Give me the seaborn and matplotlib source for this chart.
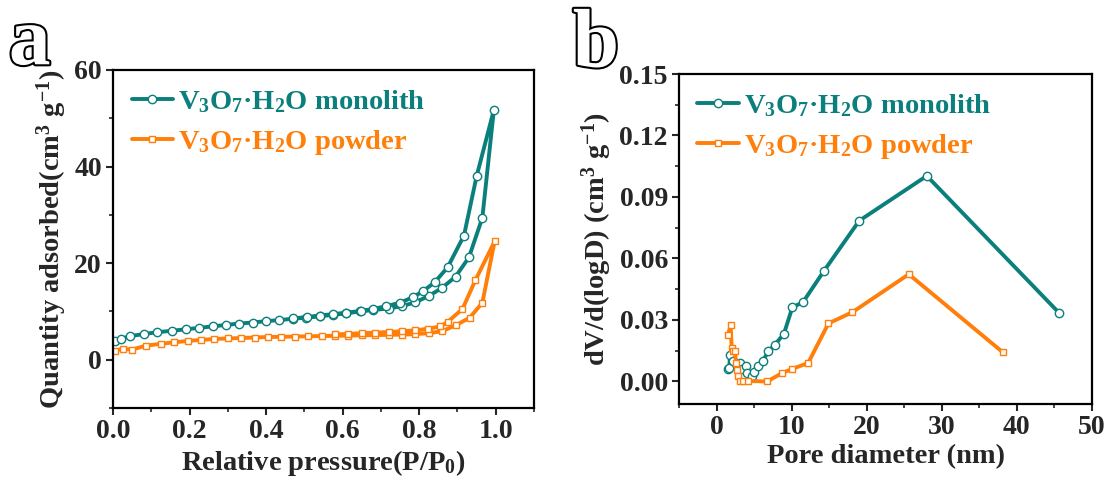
import numpy as np
import pandas as pd
import seaborn as sns
import matplotlib
matplotlib.use("Agg")
import matplotlib.pyplot as plt
import matplotlib.patheffects as pe
from matplotlib.ticker import MultipleLocator

# ---------------- data ----------------
# Panel a: N2 isotherms (adsorption branch then desorption branch)
mono_ads_p = [0.005, 0.02, 0.045, 0.08, 0.115, 0.155, 0.19, 0.225, 0.26, 0.295, 0.33, 0.365,
              0.40, 0.435, 0.47, 0.505, 0.54, 0.575, 0.61, 0.645, 0.68, 0.72, 0.755, 0.79,
              0.825, 0.86, 0.895, 0.93, 0.965, 0.995]
mono_ads_v = [3.8, 4.3, 4.9, 5.3, 5.7, 6.0, 6.3, 6.6, 6.9, 7.2, 7.5, 7.7, 8.0, 8.2, 8.5, 8.7,
              9.0, 9.3, 9.6, 10.0, 10.3, 10.6, 11.1, 11.9, 13.2, 14.9, 17.2, 21.2, 29.4, 51.7]
mono_des_p = [0.95, 0.917, 0.874, 0.84, 0.81, 0.785, 0.75, 0.714, 0.68, 0.647, 0.61, 0.576,
              0.54, 0.508, 0.47]
mono_des_v = [38.0, 25.7, 19.1, 16.0, 14.2, 13.0, 11.8, 11.1, 10.5, 10.1, 9.75, 9.45, 9.15,
              8.85, 8.55]

pow_ads_p = [0.005, 0.025, 0.05, 0.085, 0.125, 0.16, 0.195, 0.23, 0.265, 0.30, 0.335, 0.37,
             0.405, 0.44, 0.475, 0.51, 0.545, 0.58, 0.615, 0.65, 0.685, 0.72, 0.755, 0.79,
             0.825, 0.86, 0.897, 0.932, 0.965, 0.997]
pow_ads_v = [1.8, 2.3, 2.1, 2.9, 3.3, 3.6, 3.9, 4.1, 4.3, 4.4, 4.5, 4.6, 4.7, 4.75, 4.8, 4.85,
             4.9, 4.95, 5.0, 5.05, 5.1, 5.15, 5.2, 5.3, 5.5, 5.9, 7.2, 8.7, 11.8, 24.5]
pow_des_p = [0.947, 0.913, 0.874, 0.855, 0.822, 0.79, 0.755, 0.72, 0.685, 0.65, 0.615, 0.58]
pow_des_v = [16.5, 10.5, 7.8, 6.9, 6.4, 6.1, 5.9, 5.75, 5.6, 5.5, 5.35, 5.25]

# Panel b: pore size distribution
mono_d = [1.55, 1.70, 1.79, 2.15, 3.12, 3.35, 3.92, 4.01, 4.68, 4.99, 5.56, 6.14, 6.9, 7.78,
          8.97, 10.1, 11.5, 14.3, 19.0, 28.0, 45.6]
mono_dv = [0.0061, 0.0066, 0.0131, 0.0099, 0.0090, 0.0062, 0.0074, 0.0042, 0.0025, 0.0046,
           0.0074, 0.0099, 0.0147, 0.0180, 0.0232, 0.0362, 0.0386, 0.0539, 0.0784, 0.1003,
           0.0335]
pow_d = [1.50, 1.88, 2.02, 2.25, 2.46, 2.59, 2.68, 2.90, 3.12, 3.56, 4.23, 6.76, 8.68, 10.0,
         12.2, 14.9, 18.1, 25.6, 38.1]
pow_dv = [0.0225, 0.0274, 0.0165, 0.0150, 0.0147, 0.0090, 0.0058, 0.0025, 0.0004, 0.0002,
          0.0002, 0.0, 0.0040, 0.0060, 0.0090, 0.0283, 0.0338, 0.0523, 0.0143]

lab_mono = r'V$_\mathregular{3}$O$_\mathregular{7}$·H$_\mathregular{2}$O monolith'
lab_pow = r'V$_\mathregular{3}$O$_\mathregular{7}$·H$_\mathregular{2}$O powder'

TEAL = '#0a7f7c'
ORANGE = '#ff7f0a'

# ---------------- style ----------------
sns.set_theme(style="white")
plt.rcParams['font.family'] = ['Liberation Serif', 'DejaVu Serif']
plt.rcParams['font.weight'] = 'bold'
plt.rcParams['axes.labelweight'] = 'bold'
plt.rcParams['mathtext.fontset'] = 'custom'
plt.rcParams['mathtext.rm'] = 'Liberation Serif:bold'
plt.rcParams['mathtext.bf'] = 'Liberation Serif:bold'
plt.rcParams['mathtext.it'] = 'Liberation Serif:bold:italic'

fig = plt.figure(figsize=(11.10, 4.84), dpi=100)
axa = fig.add_axes([0.1018, 0.157, 0.3793, 0.6984])
axb = fig.add_axes([0.6117, 0.1653, 0.3721, 0.6818])

TICK_FS = 20
LAB_FS = 20.5
LEG_FS = 20.5


def series(ax, x, y, color, marker, ms, label):
    df = pd.DataFrame({'x': x, 'y': y})
    sns.lineplot(data=df, x='x', y='y', sort=False, estimator=None, color=color,
                 linewidth=2.8, marker=marker, markersize=ms, markerfacecolor='white',
                 markeredgecolor=color, markeredgewidth=1.0, label=label, ax=ax)


series(axa, mono_ads_p + mono_des_p, mono_ads_v + mono_des_v, TEAL, 'o', 6.0, lab_mono)
series(axa, pow_ads_p + pow_des_p, pow_ads_v + pow_des_v, ORANGE, 's', 5.0, lab_pow)
series(axb, mono_d, mono_dv, TEAL, 'o', 6.0, lab_mono)
series(axb, pow_d, pow_dv, ORANGE, 's', 5.0, lab_pow)

axa.set_xlim(0, 1.1)
axa.set_ylim(-10, 60)
axa.xaxis.set_minor_locator(MultipleLocator(0.1))
axa.yaxis.set_minor_locator(MultipleLocator(10))
axa.set_xticks([0, 0.2, 0.4, 0.6, 0.8, 1.0])
axa.set_xticklabels(['0.0', '0.2', '0.4', '0.6', '0.8', '1.0'])
axa.set_yticks([0, 20, 40, 60])
axa.set_xlabel(r'Relative pressure(P/P$_\mathregular{0}$)', fontsize=LAB_FS, fontweight='bold',
               labelpad=3)
axa.set_ylabel(r'Quantity adsorbed(cm$^\mathregular{3}$ g$^\mathregular{-1}$)', fontsize=LAB_FS,
               fontweight='bold', labelpad=4)

axb.set_xlim(-5, 50)
axb.set_ylim(-0.011, 0.15)
axb.xaxis.set_minor_locator(MultipleLocator(5))
axb.yaxis.set_minor_locator(MultipleLocator(0.015))
axb.set_yticks([0.0, 0.03, 0.06, 0.09, 0.12, 0.15])
axb.set_yticklabels(['0.00', '0.03', '0.06', '0.09', '0.12', '0.15'])
axb.set_xticks([0, 10, 20, 30, 40, 50])
axb.set_xlabel('Pore diameter (nm)', fontsize=LAB_FS, fontweight='bold', labelpad=3)
axb.set_ylabel(r'dV/d(logD) (cm$^\mathregular{3}$ g$^\mathregular{-1}$)', fontsize=LAB_FS,
               fontweight='bold', labelpad=4)

for ax in (axa, axb):
    for s in ax.spines.values():
        s.set_linewidth(1.6)
        s.set_color('black')
    ax.tick_params(which='major', direction='out', length=5, width=1.5, labelsize=TICK_FS,
                   bottom=True, left=True, top=False, right=False, pad=3)
    ax.tick_params(which='minor', direction='out', length=3, width=1.2,
                   bottom=True, left=True, top=False, right=False)
    for t in ax.get_xticklabels() + ax.get_yticklabels():
        t.set_fontweight('bold')
    ax.grid(False)
    ax.legend(loc='upper left', frameon=False, handlelength=1.45,
              handletextpad=0.2, labelspacing=0.45, borderaxespad=0.35, borderpad=0.3,
              labelcolor='linecolor', prop={'weight': 'bold', 'size': LEG_FS})

# Outlined panel letters
for xx, yy, letter in [(0.008, 0.985, 'a'), (0.516, 0.98, 'b')]:
    fig.text(xx, yy, letter, fontsize=60, fontweight='bold', color='white', ha='left', va='top',
             family=['Liberation Serif', 'DejaVu Serif'],
             path_effects=[pe.withStroke(linewidth=3, foreground='black')])

fig.savefig('out.png', dpi=100)
